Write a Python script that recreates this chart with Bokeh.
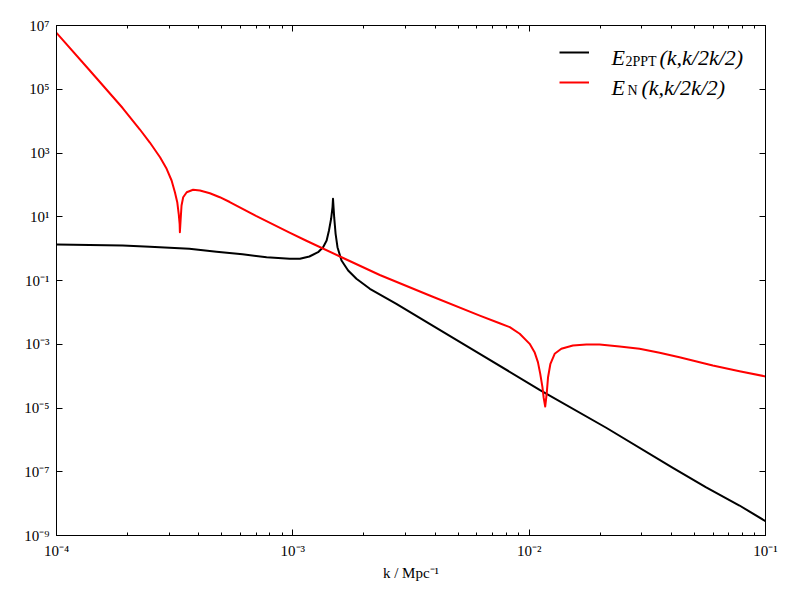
from bokeh.plotting import figure
from bokeh.models import (Range1d, FixedTicker, LogAxis, CustomJSTickFormatter,
                          Legend, LegendItem, Label)
from bokeh.embed import file_html
from bokeh.resources import INLINE

# ---- data ----
k_2ppt = [1.0e-4, 1.905e-4, 2.483e-4, 3.648e-4, 4.753e-4, 6.124e-4, 7.745e-4,
          9.705e-4, 1.072e-3, 1.175e-3, 1.279e-3, 1.343e-3, 1.390e-3, 1.422e-3,
          1.452e-3, 1.472e-3, 1.479e-3, 1.496e-3, 1.517e-3, 1.545e-3, 1.607e-3,
          1.714e-3, 1.858e-3, 2.118e-3, 2.742e-3, 3.793e-3, 6.180e-3, 1.107e-2,
          2.118e-2, 4.055e-2, 5.610e-2, 7.762e-2, 1.0e-1]
e_2ppt = [1.35, 1.25, 1.14, 0.989, 0.802, 0.664, 0.538,
          0.480, 0.480, 0.566, 0.773, 1.11, 1.80, 3.71,
          8.63, 19.95, 36.6, 9.68, 2.92, 1.11, 0.424,
          0.206, 0.113, 5.50e-2, 1.86e-2, 4.37e-3, 5.01e-4, 3.72e-5,
          2.40e-6, 1.33e-7, 3.24e-8, 8.73e-9, 2.82e-9]

k_n = [1.0e-4, 1.377e-4, 1.905e-4, 2.254e-4, 2.483e-4, 2.742e-4, 2.924e-4,
       3.069e-4, 3.170e-4, 3.243e-4, 3.289e-4, 3.319e-4, 3.327e-4, 3.350e-4,
       3.381e-4, 3.436e-4, 3.556e-4, 3.784e-4, 4.046e-4, 4.457e-4, 4.909e-4,
       5.408e-4, 6.982e-4, 9.638e-4, 1.135e-3, 1.633e-3, 2.333e-3, 3.793e-3,
       6.180e-3, 7.499e-3, 8.279e-3, 9.120e-3, 1.005e-2, 1.054e-2, 1.089e-2,
       1.114e-2, 1.138e-2, 1.151e-2, 1.169e-2, 1.186e-2, 1.202e-2, 1.230e-2,
       1.282e-2, 1.368e-2, 1.531e-2, 1.746e-2, 1.986e-2, 2.415e-2, 2.931e-2,
       3.565e-2, 4.325e-2, 5.984e-2, 7.762e-2, 1.0e-1]
e_n = [5.90e6, 4.02e5, 2.58e4, 5.46e3, 2.13e3, 7.38e2, 3.19e2,
       1.371e2, 58.9, 28.6, 12.4, 6.01, 3.27, 7.62,
       22.5, 41.0, 58.9, 70.1, 66.7, 54.8, 41.0,
       29.0, 10.6, 3.21, 1.80, 0.508, 0.149, 3.39e-2,
       7.94e-3, 4.57e-3, 3.43e-3, 2.13e-3, 1.03e-3, 5.64e-4, 2.74e-4,
       1.18e-4, 4.50e-5, 2.18e-5, 1.11e-5, 2.79e-5, 9.25e-5, 2.44e-4,
       5.01e-4, 7.19e-4, 9.14e-4, 9.82e-4, 9.82e-4, 8.49e-4, 7.19e-4,
       5.40e-4, 3.93e-4, 2.15e-4, 1.43e-4, 9.77e-5]

x_major = [1e-4, 1e-3, 1e-2, 1e-1]
x_minor = [m * 10.0 ** e for e in (-4, -3, -2) for m in range(2, 10)]
y_major = [1e-9, 1e-7, 1e-5, 1e-3, 1e-1, 1e1, 1e3, 1e5, 1e7]

FONT = "Liberation Serif"

p = figure(frame_width=709, frame_height=510,
           x_axis_type="log", y_axis_type="log",
           x_range=Range1d(1e-4, 1e-1), y_range=Range1d(1e-9, 1e7),
           output_backend="svg", toolbar_location=None,
           min_border_left=56, min_border_right=26,
           min_border_top=25, min_border_bottom=57)
p.xgrid.visible = False
p.ygrid.visible = False
p.outline_line_color = "black"
p.outline_line_width = 1

sup_code = """
const sup = {"-":"⁻","0":"⁰","1":"¹","2":"²","3":"³","4":"⁴","5":"⁵","6":"⁶","7":"⁷","8":"⁸","9":"⁹"};
const e = Math.round(Math.log10(tick));
return "10" + String(e).split("").map(c => sup[c]).join("");
"""
blank = CustomJSTickFormatter(code="return '';")

def style(ax, labels=True):
    ax.axis_line_color = "black"
    ax.axis_line_width = 1
    ax.major_tick_in = 6
    ax.major_tick_out = 0
    ax.minor_tick_in = 3
    ax.minor_tick_out = 0
    ax.major_tick_line_color = "black"
    ax.minor_tick_line_color = "black"
    ax.major_label_text_font = FONT
    ax.major_label_text_font_size = "15px"
    ax.major_label_text_color = "black"
    ax.major_label_standoff = 7
    if labels:
        ax.formatter = CustomJSTickFormatter(code=sup_code)
    else:
        ax.formatter = blank

xb = p.xaxis[0]
yl = p.yaxis[0]
xb.ticker = FixedTicker(ticks=x_major, minor_ticks=x_minor)
yl.ticker = FixedTicker(ticks=y_major, minor_ticks=[])
style(xb)
style(yl)
xb.axis_label = "k / Mpc⁻¹"
xb.axis_label_text_font = FONT
xb.axis_label_text_font_style = "normal"
xb.axis_label_text_font_size = "15px"
xb.axis_label_text_color = "black"
xb.axis_label_standoff = 3

xt = LogAxis(ticker=FixedTicker(ticks=x_major, minor_ticks=x_minor))
style(xt, labels=False)
p.add_layout(xt, "above")
yr = LogAxis(ticker=FixedTicker(ticks=y_major, minor_ticks=[]))
style(yr, labels=False)
p.add_layout(yr, "right")

r_black = p.line(k_2ppt, e_2ppt, line_color="black", line_width=2, line_join="round")
r_red = p.line(k_n, e_n, line_color="red", line_width=2, line_join="round")

def leg(renderer, y):
    p.add_layout(Legend(items=[LegendItem(label=" ", renderers=[renderer])],
                        location=(503, y), glyph_width=30, glyph_height=20,
                        label_height=20, label_text_font_size="8px", spacing=0,
                        padding=0, margin=0, border_line_alpha=0,
                        background_fill_alpha=0))

leg(r_black, 473)
leg(r_red, 443)

def lab(x, y, text, size, style_="italic"):
    p.add_layout(Label(x=x, y=y, x_units="screen", y_units="screen", text=text,
                       text_font=FONT, text_font_size=size, text_font_style=style_,
                       text_color="black", text_baseline="alphabetic"))

lab(555, 478, "E", "22px")
lab(569, 474, "2PPT", "14px", "normal")
lab(603, 478, "(k,k/2k/2)", "22px")
lab(555, 448, "E", "22px")
lab(571, 445, "N", "14px", "normal")
lab(585, 448, "(k,k/2k/2)", "22px")

open("out.html", "w").write(file_html(p, INLINE))
